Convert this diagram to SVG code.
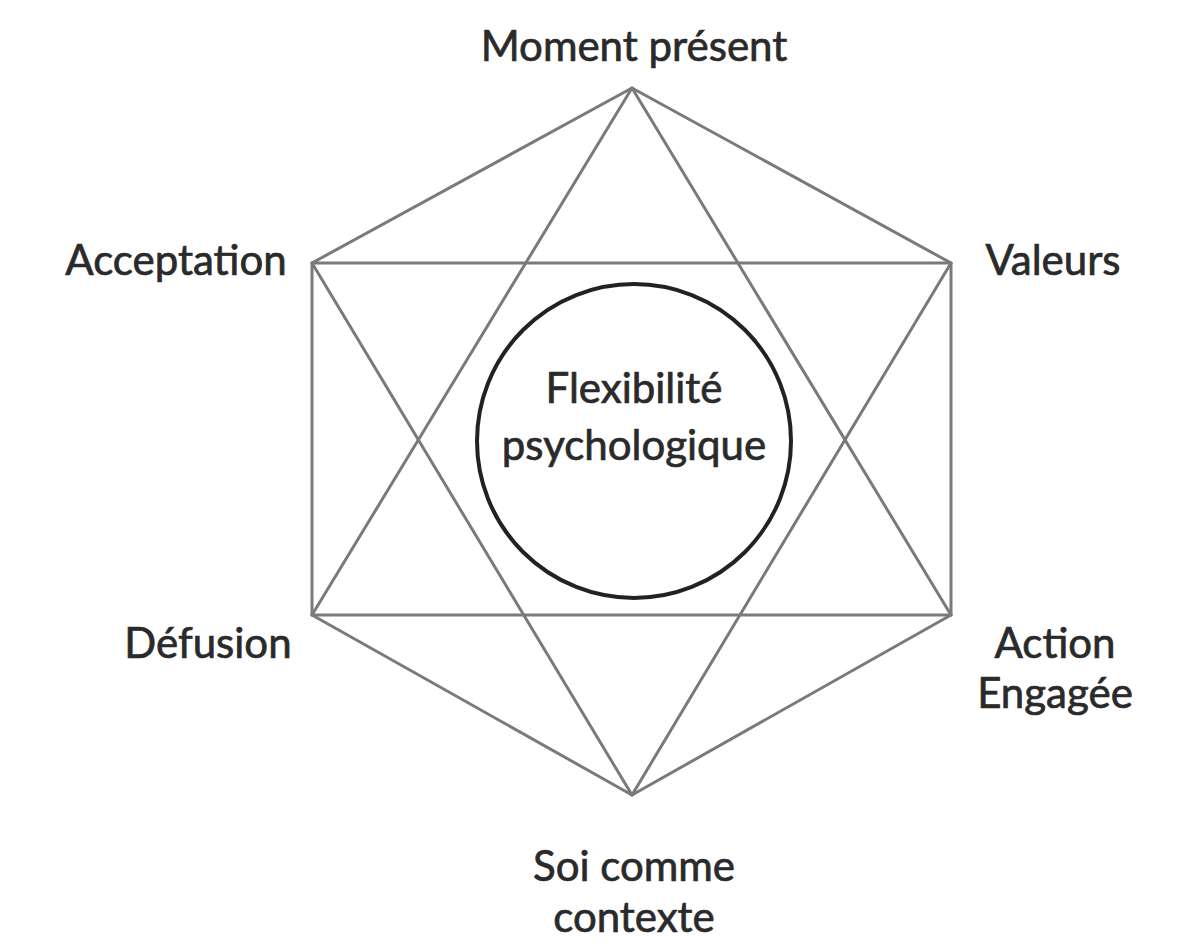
<svg xmlns="http://www.w3.org/2000/svg" width="1194" height="946" viewBox="0 0 1194 946">
<style>
.ln{stroke:#7a7a7a;stroke-width:3;fill:none;stroke-linecap:round;stroke-linejoin:round}
.lbl{font-family:Lato,"Open Sans","Liberation Sans",sans-serif;font-size:42px;fill:#2a2a2a;stroke:#2a2a2a;stroke-width:0.7;text-anchor:middle}
</style>
<rect width="1194" height="946" fill="#ffffff"/>
<g id="connectors">
<polygon class="ln" points="632,88 951,263 951,615 632,795 312,615 312,263"/>
<line class="ln" x1="312" y1="263" x2="951" y2="263"/>
<line class="ln" x1="312" y1="615" x2="951" y2="615"/>
<line class="ln" x1="632" y1="88" x2="312" y2="615"/>
<line class="ln" x1="632" y1="88" x2="951" y2="615"/>
<line class="ln" x1="632" y1="795" x2="312" y2="263"/>
<line class="ln" x1="632" y1="795" x2="951" y2="263"/>
</g>
<g id="center">
<circle cx="634" cy="441" r="157" fill="none" stroke="#222" stroke-width="4"/>
<text class="lbl" x="634" y="403">Flexibilité</text>
<text class="lbl" x="634" y="460">psychologique</text>
</g>
<g id="moment"><text class="lbl" x="634" y="61">Moment présent</text></g>
<g id="acceptation"><text class="lbl" x="176" y="275">Acceptation</text></g>
<g id="valeurs"><text class="lbl" x="1053" y="275">Valeurs</text></g>
<g id="defusion"><text class="lbl" x="208" y="658">Défusion</text></g>
<g id="action"><text class="lbl" x="1055" y="658">Action</text><text class="lbl" x="1055" y="708">Engagée</text></g>
<g id="soi"><text class="lbl" x="634" y="881">Soi comme</text><text class="lbl" x="634" y="932">contexte</text></g>
</svg>
